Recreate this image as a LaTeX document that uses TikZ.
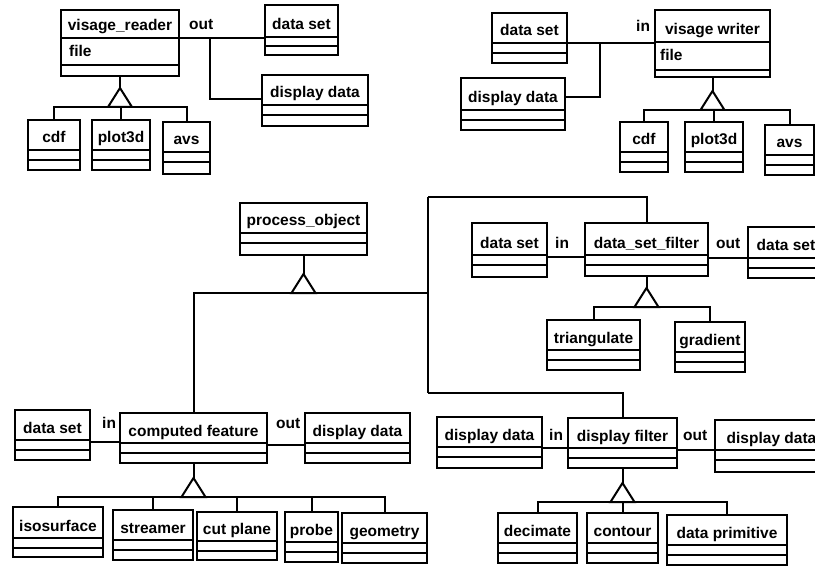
\documentclass[tikz,border=0pt]{standalone}
\usepackage{fontspec}
\setmainfont{Liberation Sans}
\tikzset{
  umlbox/.style={draw, line width=2.3pt, inner sep=0pt, outer sep=0pt},
  rowline/.style={line width=1.5pt},
  conn/.style={line width=2pt},
  lbl/.style={font=\bfseries\fontsize{15.5}{18}\selectfont, inner sep=0pt, anchor=base},
  gen/.style={line width=2pt, fill=white, line join=miter},
}
\newcommand\ubox[8]{%
  \node[umlbox, minimum width={(#4-#2)*1pt}, minimum height={(#5-#3)*1pt}] (#1) at ({(#2+#4)/2},{(#3+#5)/2}) {};
  \draw[rowline] (#2,#6) -- (#4,#6) (#2,#7) -- (#4,#7);
  \node[lbl] (#1-t) at ({(#2+#4)/2},#6-7) {#8};
}
\newcommand\gentri[2]{%
  \draw[conn] (#1.south) -- (#1.south |- 0,#2-19) coordinate (#1-g);
  \draw[gen] (#1-g) -- ++(-12,19) -- ++(24,0) -- cycle;
}
\begin{document}
\begin{tikzpicture}[x=1pt,y=-1pt]
\useasboundingbox (0,0) rectangle (815,567);
\clip (0,0) rectangle (815,567);
% ---------- top left: visage_reader
\ubox{vr}{61}{10}{179}{76}{38}{65}{visage\_reader}
\node[lbl, anchor=base west] (vrfile) at (69,57) {file};
\ubox{dsA}{265}{5}{338}{55}{37}{46}{data set}
\ubox{ddA}{262}{75}{368}{126}{105}{115}{display data}
\ubox{cdfA}{28}{120}{80}{170}{150}{160}{cdf}
\ubox{plA}{92}{120}{150}{170}{150}{160}{plot3d}
\ubox{avsA}{163}{122}{210}{174}{152}{162}{avs}
\draw[conn] (vr.east |- 0,38) -- (dsA.west |- 0,38);
\coordinate (jA) at (210,38);
\draw[conn] (jA) |- (ddA.west |- 0,99);
\node[lbl, anchor=base west] (outA) at (189,30) {out};
\draw[conn] (cdfA.north) -- (cdfA.north |- 0,107) -| (avsA.north);
\draw[conn] (plA.north) -- (plA.north |- 0,107);
\gentri{vr}{107}
% ---------- top right: visage writer
\ubox{dsB}{492}{13}{567}{63}{43}{53}{data set}
\ubox{ddB}{461}{78}{565}{130}{110}{120}{display data}
\ubox{vw}{655}{10}{770}{77}{42}{70}{visage writer}
\node[lbl, anchor=base west] (vwfile) at (660,61) {file};
\ubox{cdfB}{620}{122}{668}{172}{152}{162}{cdf}
\ubox{plB}{685}{122}{743}{172}{152}{162}{plot3d}
\ubox{avsB}{765}{125}{814}{175}{155}{165}{avs}
\draw[conn] (dsB.east |- 0,43) -- (vw.west |- 0,43);
\coordinate (jB) at (600,43);
\draw[conn] (jB) |- (ddB.east |- 0,97);
\node[lbl, anchor=base west] (inB) at (636,32) {in};
\draw[conn] (cdfB.north) -- (cdfB.north |- 0,110) -| (avsB.north);
\draw[conn] (plB.north) -- (plB.north |- 0,110);
\gentri{vw}{110}
% ---------- process_object
\ubox{po}{240}{203}{367}{255}{233}{243}{process\_object}
% ---------- data_set_filter
\ubox{dsC}{472}{223}{547}{277}{255}{265}{data set}
\ubox{dsf}{585}{223}{708}{276}{255}{265}{data\_set\_filter}
\ubox{dsD}{748}{227}{824}{278}{258}{268}{data set}
\ubox{tri}{547}{320}{640}{370}{350}{360}{triangulate}
\ubox{grad}{675}{322}{745}{372}{352}{362}{gradient}
\draw[conn] (dsC.east |- 0,257) -- (dsf.west |- 0,257);
\draw[conn] (dsf.east |- 0,258) -- (dsD.west |- 0,258);
\node[lbl, anchor=base west] (inC) at (555,248) {in};
\node[lbl, anchor=base west] (outC) at (716,248) {out};
\draw[conn] (tri.north) -- (tri.north |- 0,307) -| (grad.north);
\gentri{dsf}{307}
% ---------- computed feature
\ubox{dsE}{15}{410}{90}{460}{440}{450}{data set}
\ubox{cf}{120}{413}{267}{463}{443}{453}{computed feature}
\ubox{ddE}{305}{413}{410}{463}{443}{453}{display data}
\ubox{iso}{13}{507}{103}{557}{538}{548}{isosurface}
\ubox{str}{113}{510}{193}{560}{540}{550}{streamer}
\ubox{cut}{197}{512}{277}{560}{541}{551}{cut plane}
\ubox{prb}{285}{512}{338}{562}{542}{552}{probe}
\ubox{geo}{342}{513}{427}{563}{543}{553}{geometry}
\draw[conn] (dsE.east |- 0,442) -- (cf.west |- 0,442);
\draw[conn] (cf.east |- 0,445) -- (ddE.west |- 0,445);
\node[lbl, anchor=base west] (inE) at (102,428) {in};
\node[lbl, anchor=base west] (outE) at (276,428) {out};
\draw[conn] (iso.north) -- (iso.north |- 0,497) -| (geo.north);
\draw[conn] (str.north) -- (str.north |- 0,497);
\draw[conn] (cut.north) -- (cut.north |- 0,497);
\draw[conn] (prb.north) -- (prb.north |- 0,497);
\gentri{cf}{497}
% ---------- display filter
\ubox{ddF}{437}{417}{542}{468}{447}{457}{display data}
\ubox{df}{568}{418}{677}{468}{448}{458}{display filter}
\ubox{ddG}{715}{420}{828}{472}{450}{460}{display data}
\ubox{dec}{498}{513}{577}{563}{543}{553}{decimate}
\ubox{con}{587}{513}{658}{563}{543}{553}{contour}
\ubox{dp}{667}{515}{787}{565}{545}{555}{data primitive}
\draw[conn] (ddF.east |- 0,448) -- (df.west |- 0,448);
\draw[conn] (df.east |- 0,450) -- (ddG.west |- 0,450);
\node[lbl, anchor=base west] (inF) at (549,440) {in};
\node[lbl, anchor=base west] (outF) at (683,440) {out};
\draw[conn] (dec.north) -- (dec.north |- 0,502) -| (dp.north);
\draw[conn] (con.north) -- (con.north |- 0,502);
\gentri{df}{502}
% ---------- process_object hierarchy
\coordinate (jP) at (428,293);
\coordinate (kU) at (428,197);
\coordinate (kD) at (428,393);
\draw[conn] (cf.north) |- (jP);
\draw[conn] (kU) -- (kD);
\draw[conn] (kU) -| (dsf.north);
\draw[conn] (kD) -| (df.north);
\gentri{po}{293}
\end{tikzpicture}
\end{document}
